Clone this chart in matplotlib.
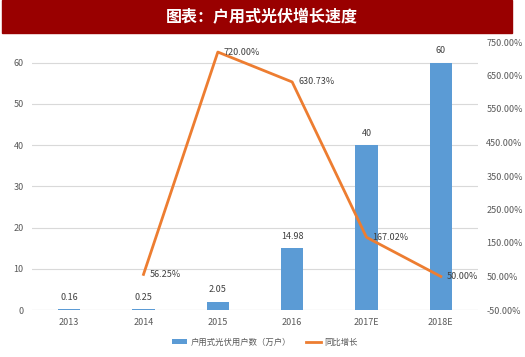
import matplotlib.pyplot as plt
from matplotlib.patches import Rectangle
import numpy as np

plt.rcParams['font.family'] = ['Noto Sans CJK SC', 'DejaVu Sans']

years = ['2013', '2014', '2015', '2016', '2017E', '2018E']
users = [0.16, 0.25, 2.05, 14.98, 40, 60]
user_labels = ['0.16', '0.25', '2.05', '14.98', '40', '60']
growth = [None, 56.25, 720.00, 630.73, 167.02, 50.00]

blue = '#5B9BD5'
orange = '#ED7D31'
grey = '#595959'

fig = plt.figure(figsize=(5.25, 3.57), dpi=100)

# title bar
fig.patches.append(Rectangle((2 / 525, 1 - 33 / 357), 510 / 525, 33 / 357,
                             transform=fig.transFigure, color='#990000', zorder=0))
fig.text(262 / 525, 1 - 17 / 357, '图表：户用式光伏增长速度', color='white',
         fontsize=11.5, fontweight='bold', ha='center', va='center')

ax = fig.add_axes([32 / 525, 1 - 310 / 357, 446 / 525, 268 / 357])
x = np.arange(len(years))
ax.bar(x, users, width=0.3, color=blue, zorder=2, label='户用式光伏用户数（万户）')
for xi, v, s in zip(x, users, user_labels):
    ax.text(xi, v + 1.8, s, ha='center', va='bottom', fontsize=6.5, color='#404040')

ax.set_xlim(-0.5, len(years) - 0.5)
ax.set_ylim(0, 65)
ax.set_yticks(range(0, 61, 10))
ax.set_xticks(x)
ax.set_xticklabels(years)
ax.grid(axis='y', color='#D9D9D9', linewidth=0.8, zorder=0)
ax.set_axisbelow(True)
for sp in ax.spines.values():
    sp.set_visible(False)
ax.axhline(0, color='#D9D9D9', linewidth=0.8, zorder=1)
ax.tick_params(length=0, labelsize=6.5, colors=grey, pad=6)

ax2 = ax.twinx()
gx = [xi for xi, g in zip(x, growth) if g is not None]
gy = [g for g in growth if g is not None]
ln, = ax2.plot(gx, gy, color=orange, linewidth=2, zorder=3, label='同比增长')
for xi, g in zip(gx, gy):
    ax2.text(xi + 0.08, g, f'{g:.2f}%', ha='left', va='center', fontsize=6.5, color='#404040')
ax2.set_ylim(-50, 750)
ax2.set_yticks(range(-50, 751, 100))
ax2.set_yticklabels([f'{t:.2f}%' for t in range(-50, 751, 100)])
for sp in ax2.spines.values():
    sp.set_visible(False)
ax2.tick_params(length=0, labelsize=6.5, colors=grey, pad=6)

h1, l1 = ax.get_legend_handles_labels()
fig.legend(h1 + [ln], l1 + ['同比增长'], loc='center', bbox_to_anchor=(265 / 525, 1 - 342 / 357),
           ncol=2, frameon=False, fontsize=6, labelcolor=grey, handlelength=1.8,
           handleheight=0.5, handletextpad=0.4, columnspacing=1.8)

fig.savefig('out.png', dpi=100)
